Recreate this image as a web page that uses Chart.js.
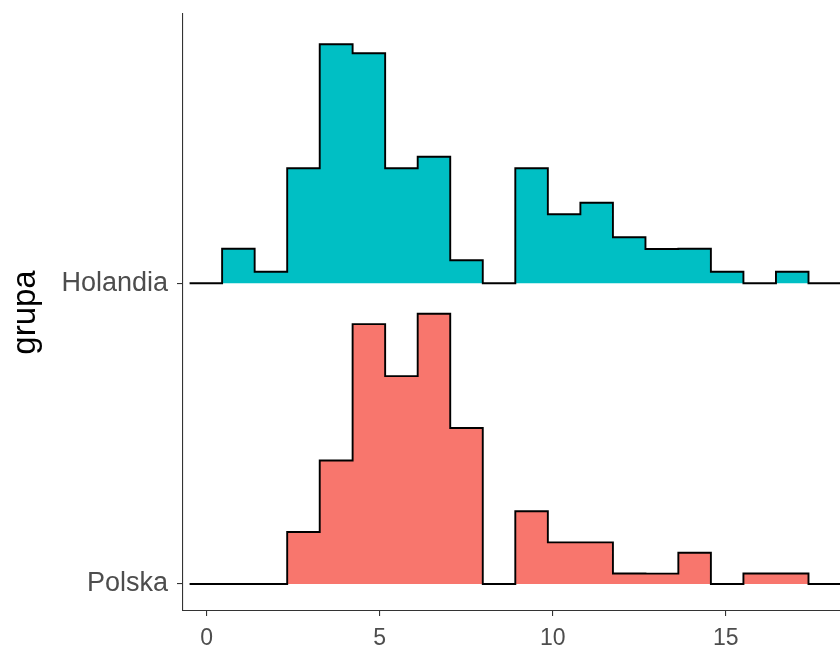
<!DOCTYPE html>
<html>
<head>
<meta charset="utf-8">
<script src="https://cdn.jsdelivr.net/npm/chart.js@4.4.1/dist/chart.umd.min.js"></script>
<style>
  html, body { margin: 0; padding: 0; background: #fff; }
  #wrap { width: 840px; height: 651px; }
</style>
</head>
<body>
<div id="wrap"><canvas id="c" width="840" height="651"></canvas></div>
<script>
// bin edges shared by both groups
const binEdges = [-0.49, 0.45, 1.39, 2.33, 3.27, 4.22, 5.16, 6.10, 7.04, 7.98, 8.92,
                  9.86, 10.80, 11.74, 12.68, 13.63, 14.57, 15.51, 16.45, 17.39, 18.33];

// counts per bin
const holandia = [0, 3, 1, 10, 21, 20, 10, 11, 2, 0, 10, 6, 7, 4, 3, 3, 1, 0, 1, 0];
const polska   = [0, 0, 0, 5, 12, 25, 20, 26, 15, 0, 7, 4, 4, 1, 1, 3, 0, 1, 1, 0];

const groups = ['Polska', 'Holandia'];
const colors = ['#F8766D', '#00BFC4'];
const xTicks = [0, 5, 10, 15];
const ridgeScale = 4.06;

// turn counts into a stepped density outline sitting on the group's baseline
function ridge(counts, base) {
    const n = counts.reduce((a, b) => a + b, 0);
    const pts = counts.map((c, i) => {
        const w = binEdges[i + 1] - binEdges[i];
        return { x: binEdges[i], y: base + c / (n * w) * ridgeScale };
    });
    pts.push({ x: binEdges[binEdges.length - 1], y: pts[pts.length - 1].y });
    return pts;
}

const series = [polska, holandia];

new Chart(document.getElementById('c').getContext('2d'), {
    type: 'line',
    data: {
        datasets: series.map((counts, i) => ({
            label: groups[i],
            data: ridge(counts, i + 1),
            stepped: true,
            borderColor: '#000',
            borderWidth: 1.9,
            backgroundColor: colors[i],
            fill: { value: i + 1 },
            pointRadius: 0,
            tension: 0
        }))
    },
    options: {
        responsive: false,
        animation: false,
        layout: { padding: { left: 0, right: 0, top: 14, bottom: 0 } },
        plugins: {
            legend: { display: false },
            tooltip: { enabled: false }
        },
        scales: {
            x: {
                type: 'linear',
                min: -0.68,
                max: 18.3,
                afterBuildTicks: (s) => { s.ticks = xTicks.map(v => ({ value: v })); },
                afterFit: (s) => { s.height = 40; s.paddingLeft = 0; s.paddingRight = 0; },
                grid: { drawOnChartArea: false, drawTicks: true, tickLength: 5, color: '#333', lineWidth: 1.1 },
                border: { display: true, color: '#333', width: 1.1 },
                ticks: {
                    color: '#4D4D4D',
                    padding: 9,
                    font: { family: 'Liberation Sans', size: 23 }
                }
            },
            y: {
                type: 'linear',
                min: 0.91,
                max: 2.895,
                afterBuildTicks: (s) => { s.ticks = groups.map((g, i) => ({ value: i + 1 })); },
                afterFit: (s) => { s.width = 183; s.paddingTop = 0; s.paddingBottom = 0; },
                grid: { drawOnChartArea: false, drawTicks: true, tickLength: 6, color: '#333', lineWidth: 1.1 },
                border: { display: true, color: '#333', width: 1.1 },
                ticks: {
                    color: '#4D4D4D',
                    padding: 9,
                    font: { family: 'Liberation Sans', size: 27 },
                    callback: (v) => groups[v - 1]
                },
                title: {
                    display: true,
                    text: 'grupa',
                    color: '#000',
                    padding: { top: 6, bottom: 0 },
                    font: { family: 'Liberation Sans', size: 33 }
                }
            }
        }
    }
});
</script>
</body>
</html>
